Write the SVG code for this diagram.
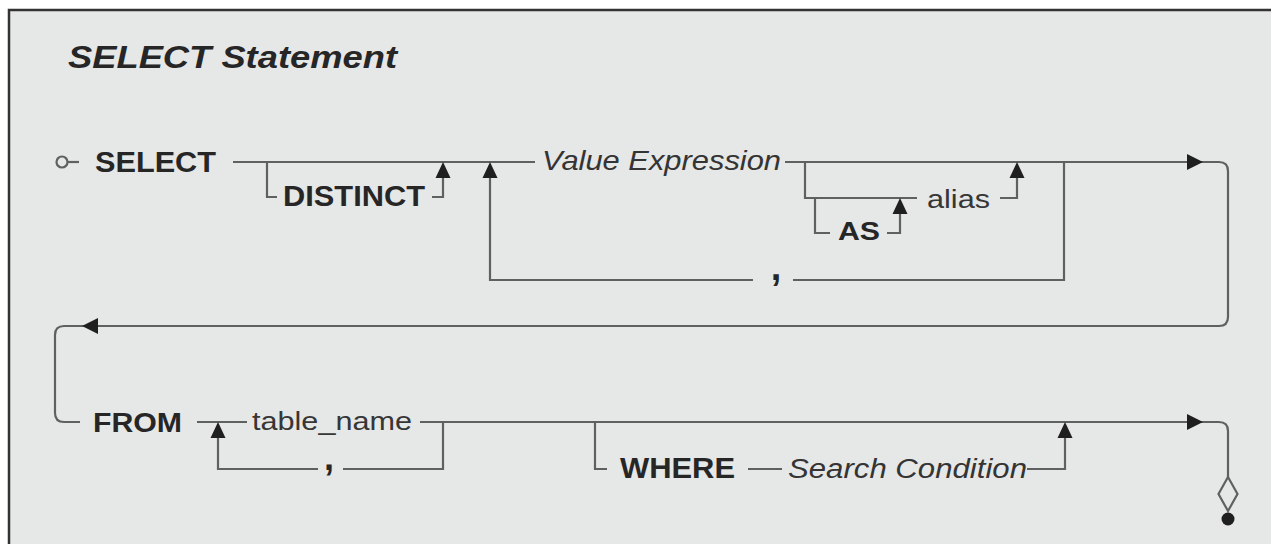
<svg xmlns="http://www.w3.org/2000/svg" width="1271" height="544" viewBox="0 0 1271 544">
  <style>
    .wire { fill: none; stroke: #5f6060; stroke-width: 2.2; stroke-linejoin: miter; }
    .head { fill: #1f1f1f; }
    .kw { font-family: "Liberation Sans", Arial, sans-serif; font-weight: bold; fill: #262626; }
    .term { font-family: "Liberation Sans", Arial, sans-serif; fill: #363636; }
    .ital { font-family: "Liberation Sans", Arial, sans-serif; font-style: italic; fill: #343434; }
  </style>
  <defs>
    <!-- arrowhead pointing up, tip at the origin -->
    <polygon id="arrowUp" class="head" points="0,0 -7.5,16 7.5,16"/>
    <!-- arrowhead pointing right, tip at the origin -->
    <polygon id="arrowRight" class="head" points="0,0 -16,-8 -16,8"/>
    <!-- arrowhead pointing left, tip at the origin -->
    <polygon id="arrowLeft" class="head" points="0,0 16,-8 16,8"/>
  </defs>

  <!-- frame -->
  <rect x="0" y="0" width="1271" height="544" fill="#ffffff"/>
  <rect x="9" y="10" width="1290" height="560" fill="#e6e7e7" stroke="#333333" stroke-width="2.5"/>

  <g id="title">
    <text class="kw" x="68" y="68" font-size="32" font-style="italic" textLength="329" lengthAdjust="spacingAndGlyphs">SELECT Statement</text>
  </g>

  <!-- connectors -->
  <g id="connectors">
    <!-- entry -->
    <circle class="wire" cx="62" cy="162" r="5.5"/>
    <path class="wire" d="M68,162 H79"/>
    <!-- first row main line, wrapping to second row -->
    <path class="wire" d="M233,162 H535"/>
    <path class="wire" d="M785,162 H1219 Q1228,162 1228,171 V317 Q1228,326 1219,326 H64 Q55,326 55,335 V413 Q55,422 64,422 H80"/>
    <!-- DISTINCT bypass -->
    <path class="wire" d="M267,162 V197 H277"/>
    <path class="wire" d="M432,197 H443 V170"/>
    <!-- repeat loop with comma -->
    <path class="wire" d="M490,170 V280 H753"/>
    <path class="wire" d="M793,280 H1064 V162"/>
    <!-- optional alias -->
    <path class="wire" d="M805,162 V198 H917"/>
    <path class="wire" d="M815,198 V233 H830"/>
    <path class="wire" d="M887,233 H900 V206"/>
    <path class="wire" d="M1000,198 H1017 V170"/>
    <!-- second row: table list -->
    <path class="wire" d="M197,422 H247"/>
    <path class="wire" d="M218,430 V469 H318"/>
    <path class="wire" d="M343,469 H443 V422"/>
    <path class="wire" d="M420,422 H1219 Q1228,422 1228,431 V477"/>
    <!-- optional WHERE -->
    <path class="wire" d="M595,422 V469 H607"/>
    <path class="wire" d="M748,469 H782"/>
    <path class="wire" d="M1027,469 H1065 V430"/>
    <!-- arrowheads -->
    <use href="#arrowUp" x="443" y="162"/>
    <use href="#arrowUp" x="490" y="162"/>
    <use href="#arrowUp" x="900" y="198"/>
    <use href="#arrowUp" x="1017" y="162"/>
    <use href="#arrowRight" x="1203" y="162"/>
    <use href="#arrowLeft" x="82" y="326"/>
    <use href="#arrowUp" x="218" y="422"/>
    <use href="#arrowUp" x="1065" y="422"/>
    <use href="#arrowRight" x="1203" y="422"/>
    <!-- exit -->
    <polygon class="wire" points="1228,477 1237.5,494 1228,511 1218.5,494"/>
    <circle cx="1228" cy="519" r="6.5" fill="#1f1f1f"/>
  </g>

  <g id="select">
    <text class="kw" x="95" y="172" font-size="29" textLength="121" lengthAdjust="spacingAndGlyphs">SELECT</text>
  </g>
  <g id="distinct">
    <text class="kw" x="283" y="206" font-size="29" textLength="142" lengthAdjust="spacingAndGlyphs">DISTINCT</text>
  </g>
  <g id="value-expression">
    <text class="ital" x="542" y="170" font-size="27.5" textLength="239" lengthAdjust="spacingAndGlyphs">Value Expression</text>
  </g>
  <g id="as">
    <text class="kw" x="838" y="240" font-size="26" textLength="42" lengthAdjust="spacingAndGlyphs">AS</text>
  </g>
  <g id="alias">
    <text class="term" x="927" y="208" font-size="25" textLength="63" lengthAdjust="spacingAndGlyphs">alias</text>
  </g>
  <g id="comma-select">
    <text class="kw" x="776" y="280" font-size="38" text-anchor="middle">,</text>
  </g>
  <g id="from">
    <text class="kw" x="93" y="432" font-size="27" textLength="89" lengthAdjust="spacingAndGlyphs">FROM</text>
  </g>
  <g id="table-name">
    <text class="term" x="252" y="430" font-size="26" textLength="160" lengthAdjust="spacingAndGlyphs">table_name</text>
  </g>
  <g id="comma-from">
    <text class="kw" x="329" y="470" font-size="36" text-anchor="middle">,</text>
  </g>
  <g id="where">
    <text class="kw" x="620" y="478" font-size="29" textLength="115" lengthAdjust="spacingAndGlyphs">WHERE</text>
  </g>
  <g id="search-condition">
    <text class="ital" x="788" y="478" font-size="27" textLength="239" lengthAdjust="spacingAndGlyphs">Search Condition</text>
  </g>
</svg>
